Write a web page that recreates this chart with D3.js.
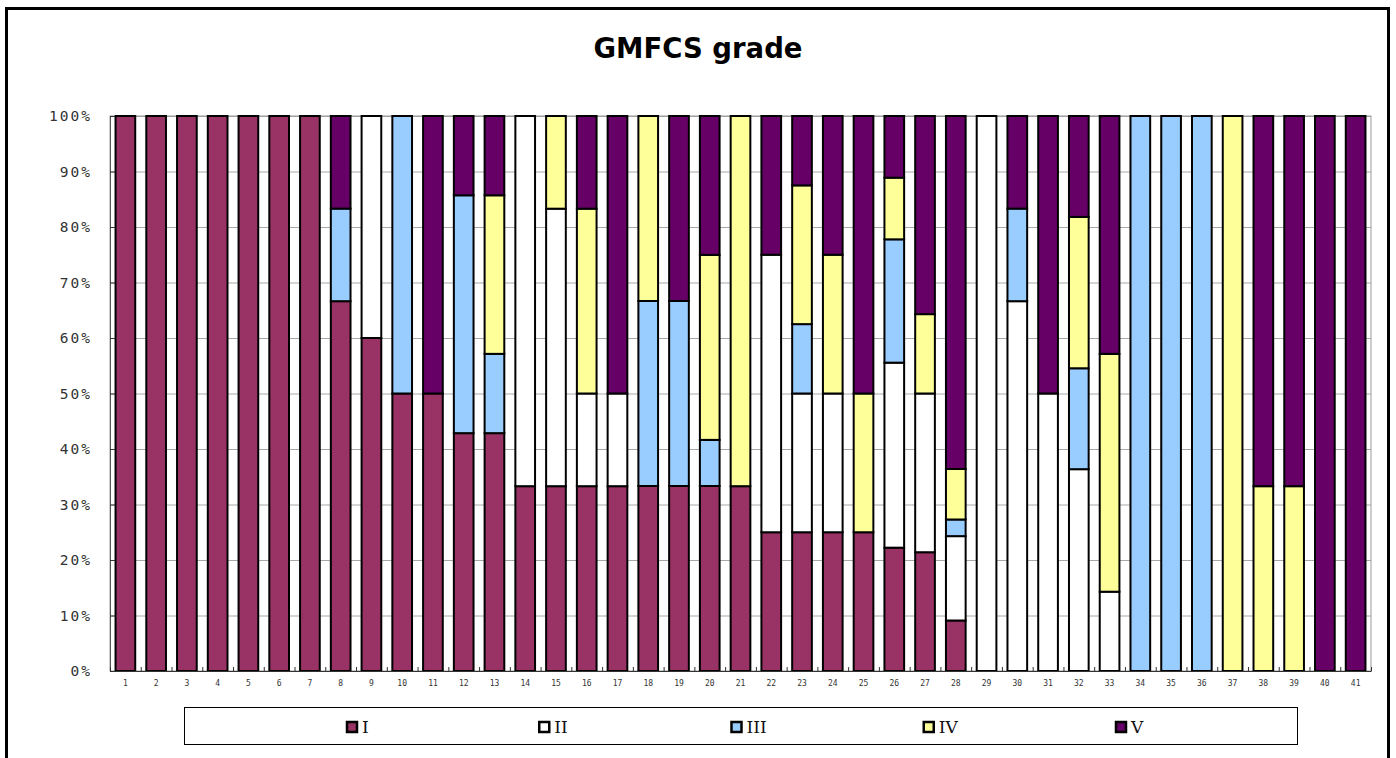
<!DOCTYPE html>
<html>
<head>
<meta charset="utf-8">
<script src="https://cdn.jsdelivr.net/npm/d3@7"></script>
<style>
  body { margin: 0; background: #fff; }
  .title { font-family: "DejaVu Sans", Verdana, sans-serif; font-weight: bold; font-size: 27.5px; }
  .y-axis text { font-family: "DejaVu Sans Mono", monospace; font-size: 14.5px; letter-spacing: 2px; fill: #333; }
  .x-axis text { font-family: "DejaVu Sans Mono", monospace; font-size: 8px; fill: #333; }
  .legend-label { font-family: "DejaVu Serif", "Liberation Serif", serif; font-size: 17px; fill: #111; }
</style>
</head>
<body>
<script>
// chart data (percent of each group)
const categories = ['1','2','3','4','5','6','7','8','9','10','11','12','13','14','15','16','17','18','19','20','21',
                    '22','23','24','25','26','27','28','29','30','31','32','33','34','35','36','37','38','39','40','41'];
const seriesNames = ['I', 'II', 'III', 'IV', 'V'];
const seriesColors = ['#993366', '#ffffff', '#99ccff', '#ffff99', '#660066'];

const gradeI   = [100,100,100,100,100,100,100,66.7,60,50,50,42.9,42.9,33.3,33.3,33.3,33.3,33.3,33.3,33.3,33.3,25,25,25,25,22.2,21.4,9.1,0,0,0,0,0,0,0,0,0,0,0,0,0];
const gradeII  = [0,0,0,0,0,0,0,0,40,0,0,0,0,66.7,50,16.7,16.7,0,0,0,0,50,25,25,0,33.3,28.6,15.2,100,66.7,50,36.4,14.3,0,0,0,0,0,0,0,0];
const gradeIII = [0,0,0,0,0,0,0,16.7,0,50,0,42.9,14.3,0,0,0,0,33.3,33.3,8.3,0,0,12.5,0,0,22.2,0,3.0,0,16.7,0,18.2,0,100,100,100,0,0,0,0,0];
const gradeIV  = [0,0,0,0,0,0,0,0,0,0,0,0,28.6,0,16.7,33.3,0,33.3,0,33.3,66.7,0,25,25,25,11.1,14.3,9.1,0,0,0,27.3,42.9,0,0,0,100,33.3,33.3,0,0];
const gradeV   = [0,0,0,0,0,0,0,16.7,0,0,50,14.3,14.3,0,0,16.7,50,0,33.3,25,0,25,12.5,25,50,11.1,35.7,63.6,0,16.7,50,18.2,42.9,0,0,0,0,66.7,66.7,100,100];

const yTicks = [0, 0.1, 0.2, 0.3, 0.4, 0.5, 0.6, 0.7, 0.8, 0.9, 1];

const SCREEN = { width: 1396, height: 758 };
const PLOT = { left: 110, right: 1371, top: 116, bottom: 671 };
PLOT.innerWidth = PLOT.right - PLOT.left;
PLOT.innerHeight = PLOT.bottom - PLOT.top;

const table = categories.map((c, i) => ({
    cat: c,
    I: gradeI[i], II: gradeII[i], III: gradeIII[i], IV: gradeIV[i], V: gradeV[i]
}));

const svg = d3.select('body').append('svg')
    .attr('width', SCREEN.width)
    .attr('height', SCREEN.height);

// outer chart border (bottom runs off the page)
svg.append('rect')
    .attr('x', 6.5).attr('y', 8.5)
    .attr('width', 1382).attr('height', 800)
    .attr('fill', 'none')
    .attr('stroke', '#000')
    .attr('stroke-width', 3);

svg.append('text')
    .attr('class', 'title')
    .attr('x', 698).attr('y', 58)
    .attr('text-anchor', 'middle')
    .text('GMFCS grade');

const canvas = svg.append('g')
    .attr('transform', `translate(${PLOT.left},${PLOT.top})`);

const xScale = d3.scaleBand()
    .domain(categories)
    .range([0, PLOT.innerWidth])
    .paddingInner(0.36)
    .paddingOuter(0.18);

const yScale = d3.scaleLinear()
    .domain([0, 1])
    .range([PLOT.innerHeight, 0]);

// gridlines
const grid = canvas.append('g')
    .call(d3.axisLeft(yScale).tickValues(yTicks).tickSize(-PLOT.innerWidth).tickFormat(''));
grid.select('.domain').remove();
grid.selectAll('line').attr('stroke', '#a8a8a8').attr('stroke-width', 1);

// plot-area frame
canvas.append('rect')
    .attr('x', 0).attr('y', 0)
    .attr('width', PLOT.innerWidth).attr('height', PLOT.innerHeight)
    .attr('fill', 'none')
    .attr('stroke', '#9a9a9a')
    .attr('stroke-width', 1);

const stack = d3.stack()
    .keys(seriesNames)
    .offset(d3.stackOffsetExpand);
const stacked = stack(table);

const colorScale = d3.scaleOrdinal().domain(seriesNames).range(seriesColors);

canvas.selectAll('g.series')
    .data(stacked)
    .join('g')
    .attr('class', 'series')
    .attr('fill', d => colorScale(d.key))
    .selectAll('rect')
    .data(d => d.filter(s => s[1] - s[0] > 0))
    .join('rect')
    .attr('x', d => xScale(d.data.cat))
    .attr('width', xScale.bandwidth())
    .attr('y', d => yScale(d[1]))
    .attr('height', d => yScale(d[0]) - yScale(d[1]))
    .attr('stroke', '#000')
    .attr('stroke-width', 2);

// y axis
const yAxisGroup = canvas.append('g')
    .attr('class', 'y-axis')
    .call(d3.axisLeft(yScale)
        .tickValues(yTicks)
        .tickFormat(d3.format('.0%'))
        .tickSizeInner(-5)
        .tickSizeOuter(0)
        .tickPadding(18));
yAxisGroup.select('.domain').attr('stroke', '#555');
yAxisGroup.selectAll('line').attr('stroke', '#333');

// x axis: ticks between categories, labels centred under bars
const tickPos = d3.scaleLinear().domain([0, categories.length]).range([0, PLOT.innerWidth]);
const xTickGroup = canvas.append('g')
    .attr('transform', `translate(0,${PLOT.innerHeight})`)
    .call(d3.axisBottom(tickPos).ticks(categories.length).tickSizeInner(-4).tickSizeOuter(0).tickFormat(''));
xTickGroup.select('.domain').attr('stroke', '#333');
xTickGroup.selectAll('line').attr('stroke', '#333');

const xAxisGroup = canvas.append('g')
    .attr('class', 'x-axis')
    .attr('transform', `translate(0,${PLOT.innerHeight})`)
    .call(d3.axisBottom(xScale).tickSize(0).tickPadding(9));
xAxisGroup.select('.domain').remove();

// legend
const legend = svg.append('g');
legend.append('rect')
    .attr('x', 184.5).attr('y', 707.5)
    .attr('width', 1113).attr('height', 37)
    .attr('fill', '#fff')
    .attr('stroke', '#000')
    .attr('stroke-width', 1);

const legendX = d3.scalePoint().domain(seriesNames).range([346, 1115]);
const items = legend.selectAll('g.item')
    .data(seriesNames)
    .join('g')
    .attr('class', 'item')
    .attr('transform', d => `translate(${legendX(d)},727)`);
items.append('rect')
    .attr('x', 1).attr('y', -5)
    .attr('width', 10).attr('height', 10)
    .attr('fill', d => colorScale(d))
    .attr('stroke', '#000')
    .attr('stroke-width', 2.5);
items.append('text')
    .attr('class', 'legend-label')
    .attr('x', 16).attr('y', 6)
    .text(d => d);
</script>
</body>
</html>
